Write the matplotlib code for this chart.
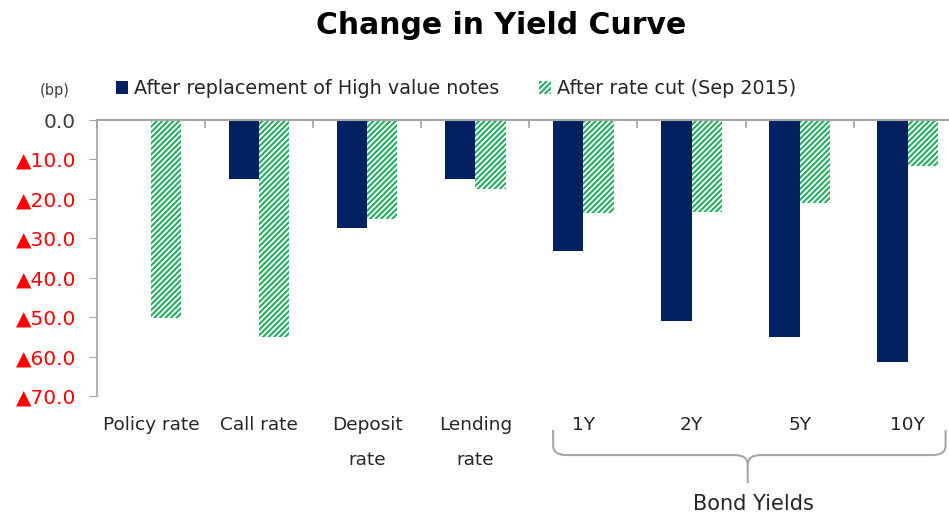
import matplotlib
matplotlib.use("Agg")
import matplotlib.pyplot as plt
import matplotlib.transforms as mtransforms
from matplotlib.patches import Patch
from matplotlib.path import Path
from matplotlib.patches import PathPatch
import numpy as np

categories = ["Policy rate", "Call rate", "Deposit\nrate", "Lending\nrate", "1Y", "2Y", "5Y", "10Y"]
after_notes = [0.0, -15.0, -27.4, -15.0, -33.2, -51.0, -55.0, -61.4]
after_cut = [-50.2, -55.0, -25.0, -17.5, -23.6, -23.4, -21.0, -11.7]
series_names = ["After replacement of High value notes", "After rate cut (Sep 2015)"]
yticks = [0, -10, -20, -30, -40, -50, -60, -70]
title = "Change in Yield Curve"
unit = "(bp)"
group_label = "Bond Yields"

navy = "#002060"
green = "#22b05e"
plt.rcParams['font.family'] = ['DejaVu Sans']
plt.rcParams['hatch.linewidth'] = 1.5

fig = plt.figure(figsize=(9.49, 5.19), dpi=100)
ax = fig.add_axes([96.9/949, 1 - 396/519, (961.8 - 96.9)/949, (396 - 120)/519])

x = np.arange(len(categories))
w = 0.28
ax.bar(x - w/2, after_notes, width=w, color=navy, linewidth=0)
ax.bar(x + w/2, after_cut, width=w, facecolor="white", edgecolor=green, hatch="//////", linewidth=0)

ax.set_xlim(-0.5, len(categories) - 0.5)
ax.set_ylim(-70, 0)

for s in ["bottom", "right"]:
    ax.spines[s].set_visible(False)
ax.spines["left"].set_color("#a6a6a6")
ax.spines["top"].set_color("#a6a6a6")
ax.spines["left"].set_linewidth(1.2)
ax.spines["top"].set_linewidth(1.5)

ax.set_yticks(yticks)
labels = ["0.0" if v == 0 else "\u25B2%.1f" % abs(v) for v in yticks]
ax.set_yticklabels(labels, fontsize=14.5)
for lab, v in zip(ax.get_yticklabels(), yticks):
    lab.set_color("#404040" if v == 0 else "#ff0000")
ax.tick_params(axis="y", direction="out", length=6, color="#a6a6a6", pad=9)

ax.xaxis.tick_top()
ax.set_xticks(np.arange(len(categories) + 1) - 0.5)
ax.set_xticklabels([])
ax.tick_params(axis="x", direction="in", length=6, color="#a6a6a6", width=1.2)

trans = mtransforms.blended_transform_factory(ax.transData, ax.transAxes)
for xi, c in zip(x, categories):
    ax.text(xi, -0.072, c, transform=trans, ha="center", va="top", fontsize=13.3,
            color="#262626", linespacing=2.2, clip_on=False)

# bracket
xl, xr, xm = 3.72, 7.35, 5.52
yt, yh, yb = -0.123, -0.214, -0.315
r = 0.12
ry = 0.035
verts = [(xl, yt), (xl, yh + ry), (xl, yh), (xl + r, yh),
         (xm - r, yh), (xm, yh), (xm, yh - ry), (xm, yb)]
codes = [Path.MOVETO, Path.LINETO, Path.CURVE3, Path.CURVE3,
         Path.LINETO, Path.CURVE3, Path.CURVE3, Path.LINETO]
ax.add_patch(PathPatch(Path(verts, codes), transform=trans, fill=False,
                       edgecolor="#a6a6a6", lw=1.5, clip_on=False))
verts2 = [(xr, yt), (xr, yh + ry), (xr, yh), (xr - r, yh),
          (xm + r, yh), (xm, yh), (xm, yh - ry)]
codes2 = [Path.MOVETO, Path.LINETO, Path.CURVE3, Path.CURVE3,
          Path.LINETO, Path.CURVE3, Path.CURVE3]
ax.add_patch(PathPatch(Path(verts2, codes2), transform=trans, fill=False,
                       edgecolor="#a6a6a6", lw=1.5, clip_on=False))
ax.text(5.57, -0.355, group_label, transform=trans, ha="center", va="top",
        fontsize=15, color="#262626", clip_on=False)

fig.text(501/949, 1 - 25/519, title, ha="center", va="center", fontsize=21.5,
         fontweight="bold", color="black")
fig.text(55/949, 1 - 90/519, unit, ha="center", va="center", fontsize=10.5, color="#404040")

handles = [Patch(facecolor=navy, edgecolor=navy, linewidth=0),
           Patch(facecolor="white", edgecolor=green, hatch="//////", linewidth=0)]
leg = fig.legend(handles, series_names, loc="center left",
                 bbox_to_anchor=(116/949, 1 - 89/519), ncol=2, frameon=False,
                 fontsize=13.8, handlelength=0.65, handleheight=0.65, handletextpad=0.3,
                 columnspacing=2.05, borderpad=0, borderaxespad=0, labelcolor="#262626")

fig.savefig("out.png", dpi=100)
